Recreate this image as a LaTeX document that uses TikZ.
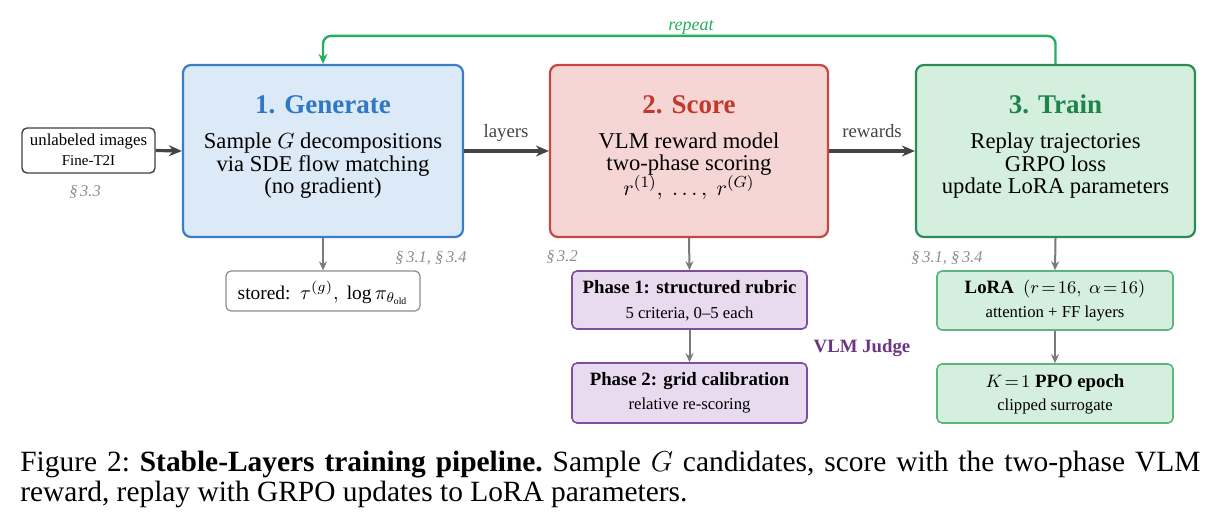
\documentclass[tikz,border=0pt]{standalone}
\usepackage{fontspec}
\setmainfont{Liberation Serif}
\usetikzlibrary{arrows.meta}
\definecolor{genborder}{HTML}{3A7EC6}
\definecolor{genfill}{HTML}{DCE9F6}
\definecolor{gentitle}{HTML}{2F78C4}
\definecolor{scoreborder}{HTML}{C94741}
\definecolor{scorefill}{HTML}{F6D6D4}
\definecolor{scoretitle}{HTML}{C0392B}
\definecolor{trainborder}{HTML}{2C8C56}
\definecolor{trainfill}{HTML}{D5EFDF}
\definecolor{traintitle}{HTML}{1E8449}
\definecolor{loopgreen}{HTML}{27AE60}
\definecolor{purpborder}{HTML}{7E4D9E}
\definecolor{purpfill}{HTML}{E8DAEF}
\definecolor{purptext}{HTML}{6C3483}
\definecolor{loraborder}{HTML}{5DB47F}
\definecolor{arrowdark}{HTML}{444444}
\definecolor{arrowgray}{HTML}{7A7A7A}
\definecolor{secgray}{HTML}{8C8C8C}
\definecolor{inborder}{HTML}{404040}
\newcommand{\titlefnt}{\fontsize{13.5}{15}\selectfont\bfseries}
\newcommand{\bodyfnt}{\fontsize{11.3}{12.5}\selectfont}
\newcommand{\smallfnt}{\fontsize{8.4}{10}\selectfont}
\newcommand{\tinyfnt}{\fontsize{7.5}{9}\selectfont}
\newcommand{\phasefnt}{\fontsize{9.4}{11}\selectfont\bfseries}
\begin{document}
\begin{tikzpicture}[x=0.5pt,y=-0.5pt,
  bigbox/.style={draw, rounded corners=4pt, line width=1.1pt, minimum width=140pt, minimum height=86pt, inner sep=0pt},
  smallbox/.style={draw, rounded corners=2.5pt, line width=0.8pt, inner sep=0pt},
  mainarrow/.style={draw=arrowdark, line width=1.6pt, -{Stealth[length=6.5pt,width=5.5pt]}},
  downarrow/.style={draw=arrowgray, line width=1pt, -{Stealth[length=4.5pt,width=4pt]}},
  txt/.style={anchor=base, inner sep=0pt},
  secl/.style={anchor=base, inner sep=0pt, font=\fontsize{8.2}{9}\selectfont\itshape, text=secgray}]
\useasboundingbox (0,0) rectangle (1220,524);

% main boxes
\node[bigbox, draw=genborder, fill=genfill] (gen) at (323,151) {};
\node[bigbox, draw=scoreborder, fill=scorefill, minimum width=139pt] (score) at (689,151) {};
\node[bigbox, draw=trainborder, fill=trainfill, minimum width=139.5pt] (train) at (1055.5,151) {};

% input
\node[smallbox, draw=inborder, line width=0.7pt, minimum width=66.5pt, minimum height=22.5pt] (inp) at (88.5,150.5) {};
\node[txt, font=\smallfnt] (inp1) at (88.5,146) {unlabeled images};
\node[txt, font=\tinyfnt] (inp2) at (88.5,165) {Fine-T2I};
\node[secl] (sec33) at (85,196) {\S\,3.3};

% generate text
\node[txt, font=\titlefnt, text=gentitle] (gent) at (323,113.5) {1. Generate};
\node[txt, font=\bodyfnt] (gen1) at (323,148.5) {Sample $G$ decompositions};
\node[txt, font=\bodyfnt] (gen2) at (323,171) {via SDE flow matching};
\node[txt, font=\bodyfnt] (gen3) at (323,193.5) {(no gradient)};

% score text
\node[txt, font=\titlefnt, text=scoretitle] (scoret) at (689,113.5) {2. Score};
\node[txt, font=\bodyfnt] (score1) at (689,148.5) {VLM reward model};
\node[txt, font=\bodyfnt] (score2) at (689,170.5) {two-phase scoring};
\node[txt, font=\bodyfnt] (score3) at (689,195.5) {$r^{(1)},\ \ldots,\ r^{(G)}$};

% train text
\node[txt, font=\titlefnt, text=traintitle] (traint) at (1055.5,113.5) {3. Train};
\node[txt, font=\bodyfnt] (train1) at (1055.5,148.5) {Replay trajectories};
\node[txt, font=\bodyfnt] (train2) at (1055.5,171) {GRPO loss};
\node[txt, font=\bodyfnt] (train3) at (1055.5,193.5) {update LoRA parameters};

% main arrows
\draw[mainarrow] (inp.east) -- (gen.west);
\draw[mainarrow] (gen.east) -- (score.west);
\draw[mainarrow] (score.east) -- (train.west);
\node[txt, font=\fontsize{9.4}{11}\selectfont, text=arrowdark] (lay) at (506,137) {layers};
\node[txt, font=\fontsize{9.4}{11}\selectfont, text=arrowdark] (rew) at (872,137) {rewards};

% repeat loop
\draw[draw=loopgreen, line width=1.2pt, rounded corners=4pt, -{Stealth[length=5pt,width=4.5pt]}]
  (train.north) -- ++(0,-28) -| (gen.north);
\node[txt, font=\fontsize{9}{10}\selectfont\itshape, text=loopgreen] (rep) at (691,31) {repeat};

% stored
\node[smallbox, draw=secgray, line width=0.6pt, minimum width=97pt, minimum height=20pt] (stored) at (323,291) {};
\node[txt, font=\fontsize{9.7}{11}\selectfont] (stored1) at (323,299) {stored:\enspace$\tau^{(g)},\ \log\pi_{\theta_{\mathrm{old}}}$};
\draw[downarrow] (gen.south) -- (stored.north);
\node[secl] (sec3134a) at (431,262) {\S\,3.1, \S\,3.4};

% phases
\node[secl] (sec32) at (562,261) {\S\,3.2};
\node[smallbox, draw=purpborder, fill=purpfill, minimum width=117.5pt, minimum height=29pt] (ph1) at (689.5,300) {};
\node[txt, font=\phasefnt] (ph1a) at (689.5,293) {Phase 1: structured rubric};
\node[txt, font=\fontsize{8.35}{10}\selectfont] (ph1b) at (689.5,318) {5 criteria, 0--5 each};
\node[smallbox, draw=purpborder, fill=purpfill, minimum width=117.5pt, minimum height=30pt] (ph2) at (689.5,393) {};
\node[txt, font=\phasefnt] (ph2a) at (689.5,385) {Phase 2: grid calibration};
\node[txt, font=\fontsize{8.35}{10}\selectfont] (ph2b) at (689.5,409) {relative re-scoring};
\draw[downarrow] (score.south) -- (ph1.north);
\draw[downarrow] (ph1.south) -- (ph2.north);
\node[txt, font=\phasefnt, text=purptext] (judge) at (862,352) {VLM Judge};

% train subboxes
\node[secl] (sec3134b) at (947,262) {\S\,3.1, \S\,3.4};
\node[smallbox, draw=loraborder, fill=trainfill, minimum width=118pt, minimum height=29.5pt] (lora) at (1055,300.5) {};
\node[txt, font=\fontsize{9.4}{11}\selectfont] (lora1) at (1055,293) {\textbf{LoRA}\enspace$(r\!=\!16,\ \alpha\!=\!16)$};
\node[txt, font=\fontsize{8.35}{10}\selectfont] (lora2) at (1055,317) {attention + FF layers};
\node[smallbox, draw=loraborder, fill=trainfill, minimum width=118pt, minimum height=29.5pt] (ppo) at (1055,393.5) {};
\node[txt, font=\fontsize{9.4}{11}\selectfont] (ppo1) at (1055,387) {$K\!=\!1$ \textbf{PPO epoch}};
\node[txt, font=\fontsize{8.35}{10}\selectfont] (ppo2) at (1055,410) {clipped surrogate};
\draw[downarrow] (train.south) -- (lora.north);
\draw[downarrow] (lora.south) -- (ppo.north);

% caption
\node[anchor=north west, inner sep=0pt, text width=590pt, align=justify, font=\fontsize{14.7}{15}\selectfont] (cap) at (20,451)
  {\frenchspacing Figure 2: \textbf{Stable-Layers training pipeline.} Sample $G$ candidates, score with the two-phase VLM\linebreak reward, replay with GRPO updates to LoRA parameters.};
\end{tikzpicture}
\end{document}
